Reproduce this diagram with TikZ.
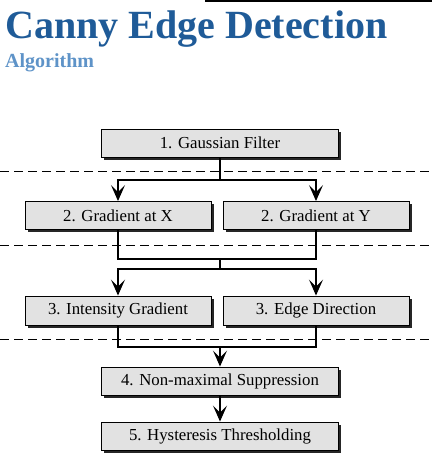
\documentclass[tikz,border=0pt]{standalone}
\usepackage{fontspec}
\setmainfont{Liberation Serif}
\usetikzlibrary{arrows.meta,shadows}
\definecolor{titleblue}{HTML}{1F5B98}
\definecolor{subblue}{HTML}{5E93C8}
\definecolor{boxgray}{HTML}{E2E2E2}
\tikzset{
  stepbox/.style={draw=black, line width=0.9pt, fill=boxgray, minimum height=28pt, inner sep=0pt,
    font=\fontsize{16.8}{17}\selectfont,
    drop shadow={shadow xshift=2.5pt, shadow yshift=-2.5pt, fill=black!85, opacity=1}},
  conn/.style={line width=1.3pt, draw=black},
  arr/.style={conn, arrows={-Stealth[length=16pt,width=14pt,inset=7pt]}},
  sep/.style={line width=1.6pt, dash pattern=on 9pt off 5pt}
}
\begin{document}
\begin{tikzpicture}[x=1pt,y=-1pt]
\useasboundingbox (0,0) rectangle (432,466);
\fill[white] (0,0) rectangle (432,466);
\draw[line width=2.2pt] (205,1) -- (432,1);
\node[anchor=base west, inner sep=0pt, text=titleblue, font=\fontsize{40}{40}\selectfont\bfseries] (title) at (5,38) {Canny Edge Detection};
\node[anchor=base west, inner sep=0pt, text=subblue, font=\fontsize{20}{20}\selectfont\bfseries] (sub) at (5,67) {Algorithm};

\node[stepbox, minimum width=237pt] (g) at (220,143) {1. Gaussian Filter};
\node[stepbox, minimum width=186pt] (gx) at (118,215.5) {2. Gradient at X};
\node[stepbox, minimum width=186pt] (gy) at (316,215.5) {2. Gradient at Y};
\node[stepbox, minimum width=186pt, minimum height=29pt] (ig) at (118,310.5) {3. Intensity Gradient};
\node[stepbox, minimum width=186pt, minimum height=29pt] (ed) at (316,310.5) {3. Edge Direction};
\node[stepbox, minimum width=237pt] (nm) at (220,381) {4. Non-maximal Suppression};
\node[stepbox, minimum width=237pt] (ht) at (220,436) {5. Hysteresis Thresholding};

\draw[sep] (0,171.5) -- (432,171.5);
\draw[sep] (0,245.5) -- (432,245.5);
\draw[sep] (0,339.5) -- (432,339.5);

\coordinate (j1) at (220,180);
\coordinate (j2) at (220,259);
\coordinate (j3) at (220,269);
\coordinate (j4) at (220,347);
\draw[conn] (g.south) -- (j1);
\draw[arr] (j1) -| (gx.north);
\draw[arr] (j1) -| (gy.north);
\draw[conn] (gx.south) |- (j2) -| (gy.south);
\draw[conn] (j2) -- (j3);
\draw[arr] (j3) -| (ig.north);
\draw[arr] (j3) -| (ed.north);
\draw[conn] (ig.south) |- (j4) -| (ed.south);
\draw[arr] (j4) -- (nm.north);
\draw[arr] (nm.south) -- (ht.north);
\end{tikzpicture}
\end{document}
